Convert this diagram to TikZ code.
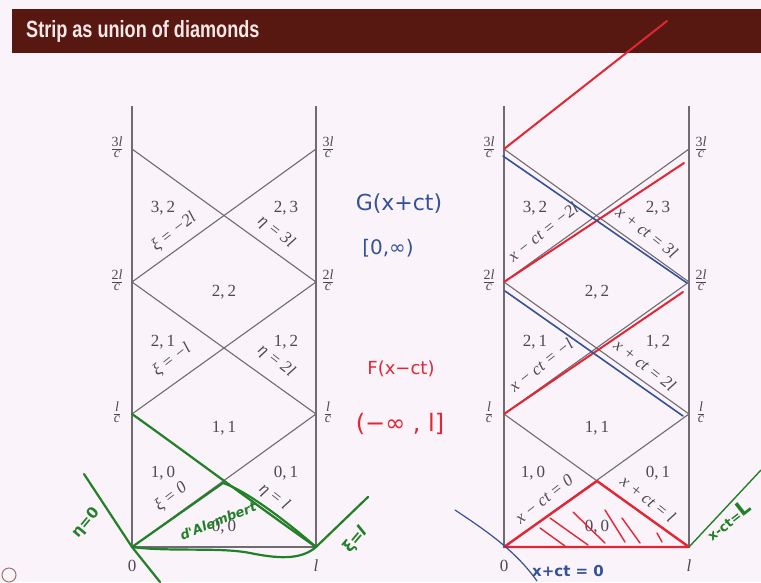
\documentclass[tikz,border=0pt]{standalone}
\usepackage{fontspec}
\setmainfont{Liberation Serif}
\newfontfamily\titlefont{Liberation Sans}
\newfontfamily\handfont{DejaVu Sans}
\usepackage{graphicx}
\definecolor{bgc}{RGB}{251,243,250}
\definecolor{barc}{RGB}{88,24,18}
\definecolor{titlec}{RGB}{250,232,232}
\definecolor{gridc}{RGB}{112,106,114}
\definecolor{labc}{RGB}{78,72,80}
\definecolor{hgreen}{RGB}{34,128,40}
\definecolor{hred}{RGB}{226,38,52}
\definecolor{hblue}{RGB}{52,82,150}
\tikzset{
  gridline/.style={draw=gridc, line width=1.1pt},
  region/.style={text=labc, font=\fontsize{17}{17}\selectfont, inner sep=0pt},
  linelab/.style={text=labc, font=\fontsize{17}{17}\selectfont\itshape, inner sep=0pt},
  fraclab/.style={text=labc, inner sep=0pt, font=\fontsize{14}{14}\selectfont},
  greenpen/.style={draw=hgreen, line width=2.2pt, line cap=round, line join=round},
  redpen/.style={draw=hred, line width=2pt, line cap=round, line join=round},
  bluepen/.style={draw=hblue, line width=1.6pt, line cap=round, line join=round},
  hand/.style={font=\handfont\fontsize{17}{17}\selectfont, inner sep=0pt},
}
\newcommand{\lfr}[1]{\renewcommand\arraystretch{0.85}\setlength\arrayrulewidth{0.6pt}\begin{tabular}{@{}c@{}}#1\\[-1pt]\hline\textit{c}\end{tabular}}
\newcommand{\stripgrid}[3]{%
  \coordinate (#1At) at (#2,106);
  \coordinate (#1A0) at (#2,547);
  \coordinate (#1A1) at (#2,414);
  \coordinate (#1A2) at (#2,282);
  \coordinate (#1A3) at (#2,149);
  \coordinate (#1Bt) at (#3,106);
  \coordinate (#1B0) at (#3,547);
  \coordinate (#1B1) at (#3,414);
  \coordinate (#1B2) at (#3,282);
  \coordinate (#1B3) at (#3,149);
  \draw[gridline] (#1At) -- (#1A0) -- (#1B0) -- (#1Bt);
  \draw[gridline] (#1A0) -- (#1B1) -- (#1A2) -- (#1B3);
  \draw[gridline] (#1B0) -- (#1A1) -- (#1B2) -- (#1A3);
  \node[fraclab] (#1fa3) at ([xshift=-15pt]#1A3) {\lfr{3\textit{l}}};
  \node[fraclab] (#1fa2) at ([xshift=-15pt]#1A2) {\lfr{2\textit{l}}};
  \node[fraclab] (#1fa1) at ([xshift=-15pt]#1A1) {\lfr{\textit{l}}};
  \node[fraclab] (#1fb3) at ([xshift=12pt]#1B3) {\lfr{3\textit{l}}};
  \node[fraclab] (#1fb2) at ([xshift=12pt]#1B2) {\lfr{2\textit{l}}};
  \node[fraclab] (#1fb1) at ([xshift=12pt]#1B1) {\lfr{\textit{l}}};
  \node[region] (#1zero) at ([yshift=-19pt]#1A0) {0};
  \node[region] (#1ell) at ([yshift=-19pt]#1B0) {\itshape l};
}
\begin{document}
\begin{tikzpicture}[x=1pt,y=-1pt]
\fill[bgc] (0,0) rectangle (761,582);
\useasboundingbox (0,0) rectangle (761,582);
\fill[barc] (12,9) rectangle (761,53);
\node[anchor=base west, text=titlec, font=\titlefont\bfseries\fontsize{23.5}{23.5}\selectfont, inner sep=0pt] (title) at (26,37) {\scalebox{0.77}[1]{Strip as union of diamonds}};
\draw[barc!60, line width=1pt] (9,575) circle (7);

% ---------- left diagram ----------
\stripgrid{L}{132}{316}
\node[region] (L32) at (163,208) {3,\,2};
\node[region] (L23) at (286,208) {2,\,3};
\node[region] (L22) at (224,292) {2,\,2};
\node[region] (L21) at (163,342) {2,\,1};
\node[region] (L12) at (286,342) {1,\,2};
\node[region] (L11) at (224,428) {1,\,1};
\node[region] (L10) at (163,473) {1,\,0};
\node[region] (L01) at (286,473) {0,\,1};
\node[region] (L00) at (224,527) {0,\,0};
\node[linelab, rotate=38] (Lxi2) at (174,232) {ξ = −2\textit{l}};
\node[linelab, rotate=-38] (Leta3) at (276,232) {η = 3\textit{l}};
\node[linelab, rotate=38] (Lxi1) at (172,360) {ξ = −\textit{l}};
\node[linelab, rotate=-38] (Leta2) at (276,361) {η = 2\textit{l}};
\node[linelab, rotate=38] (Lxi0) at (171,497) {ξ = 0};
\node[linelab, rotate=-38] (Leta1) at (274,497) {η = \textit{l}};

% green annotations
\draw[greenpen] (LA1) .. controls (180,448) and (260,508) .. (LB0);
\draw[greenpen] (LA0) -- (223,483) .. controls (245,490) and (285,520) .. (LB0);
\draw[greenpen] (LA0) .. controls (170,552) and (220,547) .. (250,553) .. controls (275,558) and (300,561) .. (LB0);
\coordinate (gtop) at (84,474);
\coordinate (gbot) at (160,582);
\draw[greenpen] (gtop) -- (LA0) -- (gbot);
\coordinate (gright) at (368,497);
\draw[greenpen] (LB0) -- (gright);
\node[hand, text=hgreen, rotate=50, font=\handfont\bfseries\fontsize{15}{15}\selectfont] (eta0) at (86,523) {η=0};
\node[hand, text=hgreen, rotate=50, font=\handfont\bfseries\fontsize{16}{16}\selectfont] (xil) at (356,540) {ξ=\textit{l}};
\node[hand, text=hgreen, rotate=22, font=\handfont\bfseries\itshape\fontsize{13}{13}\selectfont] (dal) at (218,521) {d'Alembert};

% ---------- middle handwriting ----------
\node[hand, text=hblue, font=\handfont\fontsize{22}{22}\selectfont] (Gtxt) at (399,204) {G(x+ct)};
\node[hand, text=hblue, font=\handfont\fontsize{20}{20}\selectfont] (Gint) at (388,248) {[0,∞)};
\node[hand, text=hred, font=\handfont\fontsize{18}{18}\selectfont] (Ftxt) at (401,369) {F(x−ct)};
\node[hand, text=hred, font=\handfont\fontsize{24}{24}\selectfont] (Fint) at (400,424) {(−∞ , l]};

% ---------- right diagram ----------
\stripgrid{R}{504}{689}
\node[region] (R32) at (535,208) {3,\,2};
\node[region] (R23) at (658,208) {2,\,3};
\node[region] (R22) at (597,292) {2,\,2};
\node[region] (R21) at (535,342) {2,\,1};
\node[region] (R12) at (658,342) {1,\,2};
\node[region] (R11) at (597,428) {1,\,1};
\node[region] (R10) at (533,473) {1,\,0};
\node[region] (R01) at (658,473) {0,\,1};
\node[region] (R00) at (597,527) {0,\,0};
\node[linelab, rotate=38] (Rxi2) at (543,232) {x − ct = −2\textit{l}};
\node[linelab, rotate=-38] (Reta3) at (647,232) {x + ct = 3\textit{l}};
\node[linelab, rotate=38] (Rxi1) at (541,365) {x − ct = −\textit{l}};
\node[linelab, rotate=-38] (Reta2) at (645,365) {x + ct = 2\textit{l}};
\node[linelab, rotate=38] (Rxi0) at (544,499) {x − ct = 0};
\node[linelab, rotate=-38] (Reta1) at (648,499) {x + ct = \textit{l}};

% red and blue annotations
\coordinate (rtop) at (667,21);
\draw[redpen] (RA3) -- (rtop);
\coordinate (r2end) at (684,163);
\draw[redpen] (RA2) -- (r2end);
\coordinate (r1end) at (683,292);
\draw[redpen] (RA1) -- (r1end);
\coordinate (b3s) at (503,156);
\coordinate (b3e) at (687,283);
\draw[bluepen] (b3s) -- (b3e);
\coordinate (b2s) at (505,291);
\coordinate (b2e) at (683,416);
\draw[bluepen] (b2s) -- (b2e);
\coordinate (rapex) at (597,481);
\draw[redpen, line width=2.4pt] (RA0) -- (rapex) -- (RB0) -- cycle;
\foreach \a/\b/\c/\d in {540/528/565/546, 550/518/588/545, 573/512/605/543, 605/510/625/542, 622/518/640/543, 657/533/662/542}
  \draw[redpen, line width=1.4pt] (\a,\b) -- (\c,\d);
\coordinate (bc1) at (455,510);
\coordinate (bc2) at (537,581);
\draw[bluepen, line width=1.2pt] (bc1) .. controls (485,530) and (515,550) .. (bc2);
\node[hand, text=hblue, font=\handfont\bfseries\fontsize{15}{15}\selectfont] (xct0) at (568,571) {x+ct = 0};
\coordinate (gR) at (761,470);
\draw[greenpen, line width=1.4pt] (RB0) -- (gR);
\node[hand, text=hgreen, rotate=38, font=\handfont\bfseries\fontsize{13}{13}\selectfont] (xctL) at (728,520) {x-ct=\fontsize{20}{20}\selectfont L};
\end{tikzpicture}
\end{document}
